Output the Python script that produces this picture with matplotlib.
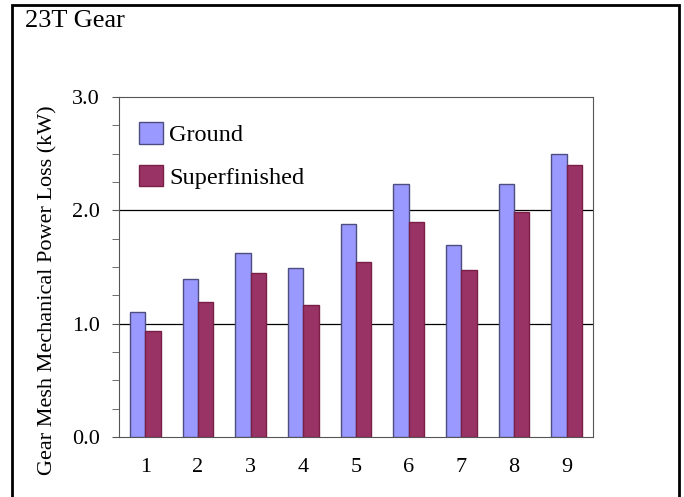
import numpy as np
import matplotlib.pyplot as plt
from matplotlib.patches import Rectangle
from matplotlib.ticker import MultipleLocator

# données
categories = ["1", "2", "3", "4", "5", "6", "7", "8", "9"]
ground = [1.10, 1.39, 1.62, 1.49, 1.88, 2.23, 1.69, 2.23, 2.50]
superfinished = [0.93, 1.19, 1.45, 1.16, 1.54, 1.90, 1.47, 1.98, 2.40]

plt.rcParams["font.family"] = ["Liberation Serif", "DejaVu Serif"]

fig = plt.figure(figsize=(6.84, 4.97), dpi=100)
ax = fig.add_axes([0.174, 0.121, 0.693, 0.684])

# cadre extérieur
fig.patches.append(Rectangle((12 / 684, -0.01), 667 / 684, 1 - 5 / 497 + 0.01,
                             transform=fig.transFigure, fill=False,
                             edgecolor="black", linewidth=2, zorder=10))

x = np.arange(1, len(categories) + 1)
w = 0.29
ax.bar(x - w / 2, ground, w, color="#9999FF", edgecolor="#4D4D80",
       linewidth=1, label="Ground", zorder=3)
ax.bar(x + w / 2, superfinished, w, color="#993366", edgecolor="#7A1F45",
       linewidth=1, label="Superfinished", zorder=3)

for yv in [1.0, 2.0]:
    ax.axhline(yv, color="black", linewidth=0.9, zorder=1)

ax.set_xlim(0.5, 9.5)
ax.set_ylim(0, 3.0)
ax.set_xticks(x)
ax.set_xticklabels(categories)
ax.set_yticks([0, 1, 2, 3])
ax.set_yticklabels(["0.0", "1.0", "2.0", "3.0"])
ax.yaxis.set_minor_locator(MultipleLocator(0.25))
ax.tick_params(axis="x", length=0, labelsize=16, pad=15)
ax.tick_params(axis="y", which="both", direction="out", length=5,
               labelsize=16, color="#555555", pad=9)
for s in ax.spines.values():
    s.set_color("#555555")

ax.set_ylabel("Gear Mesh Mechanical Power Loss (kW)", fontsize=16)
ax.yaxis.set_label_coords(-0.13, 0.43)

fig.text(25 / 684, 1 - 21 / 497, "23T Gear", fontsize=19, va="center", ha="left")

ax.legend(loc="upper left", frameon=False, fontsize=17.5, handlelength=1.0,
          handleheight=1.0, bbox_to_anchor=(-0.005, 0.99), labelspacing=0.75,
          handletextpad=0.25)

fig.savefig("out.png", dpi=100)
